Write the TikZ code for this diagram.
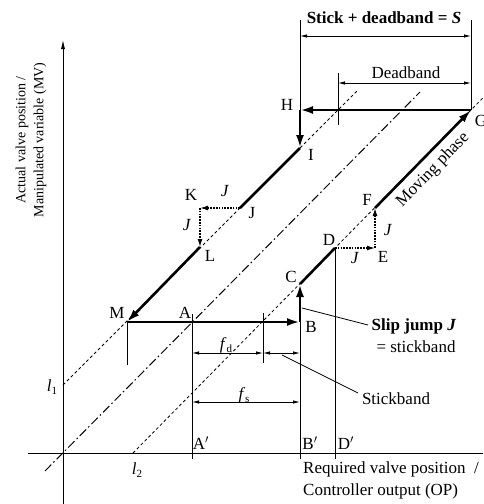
\documentclass[tikz,border=0pt]{standalone}
\usepackage{fontspec}
\setmainfont{Liberation Serif}
\usetikzlibrary{arrows.meta}
\begin{document}
\begin{tikzpicture}[x=1pt,y=-1pt,
  lbl/.style={inner sep=0pt, font=\fontsize{17}{20}\selectfont},
  mainarrow/.style={line width=2.6pt, -{Latex[length=13pt,width=8pt]}},
  mainline/.style={line width=2.6pt},
  jumparrow/.style={line width=1.3pt, dash pattern=on 1.6pt off 1.2pt, -{Latex[length=8pt,width=5pt]}},
  thinline/.style={line width=0.8pt},
  dimarrow/.style={line width=0.8pt, {Latex[length=7pt,width=3.5pt]}-{Latex[length=7pt,width=3.5pt]}},
  refline/.style={line width=0.8pt, dash pattern=on 3pt off 2.5pt},
  centerline/.style={line width=1pt, dash pattern=on 9pt off 3pt on 1.5pt off 3pt}
]
\useasboundingbox (0,0) rectangle (483,504);

% key points
\coordinate (M) at (127,322);
\coordinate (A) at (192,322);
\coordinate (B) at (300,322);
\coordinate (C) at (300,284);
\coordinate (D) at (335,248);
\coordinate (E) at (375,248);
\coordinate (F) at (375,208);
\coordinate (G) at (471,110);
\coordinate (H) at (300,110);
\coordinate (I) at (300,148);
\coordinate (J) at (240,208);
\coordinate (K) at (200,208);
\coordinate (L) at (200,247);

% axes
\coordinate (yb) at (63,504);
\coordinate (yt) at (63,40);
\coordinate (xl) at (28,453);
\coordinate (xr) at (483,453);
\draw[thinline, -{Latex[length=9pt,width=4pt]}] (yb) -- (yt);
\draw[thinline] (xl) -- (xr);

% reference lines
\coordinate (l1s) at (63,385);
\coordinate (l1e) at (358,90);
\coordinate (l2s) at (133,453);
\coordinate (l2e) at (483,97.8);
\coordinate (cs) at (45,471);
\coordinate (ce) at (420,92);
\draw[refline] (l1s) -- (l1e);
\draw[refline] (l2s) -- (l2e);
\draw[centerline] (cs) -- (ce);

% vertical thin lines
\coordinate (Htop) at (300,20);
\coordinate (Gtop) at (471,20);
\coordinate (dbt) at (338,73);
\coordinate (dbb) at (338,125);
\coordinate (Mb) at (127,365);
\coordinate (At) at (192,314);
\coordinate (Ab) at (192,459);
\coordinate (fdt) at (263,313);
\coordinate (fdb) at (263,363);
\coordinate (Bb) at (300,459);
\coordinate (Db) at (335,459);
\draw[thinline] (Htop) -- (H);
\draw[thinline] (Gtop) -- (G);
\draw[thinline] (dbt) -- (dbb);
\draw[thinline] (M) -- (Mb);
\draw[thinline] (At) -- (Ab);
\draw[thinline] (fdt) -- (fdb);
\draw[thinline] (B) -- (Bb);
\draw[thinline] (D) -- (Db);

% dimension arrows
\coordinate (S1) at (300,36);
\coordinate (S2) at (471,36);
\coordinate (d1) at (338,83);
\coordinate (d2) at (471,83);
\coordinate (fd1) at (192,353);
\coordinate (fd2) at (263,353);
\coordinate (sb2) at (300,353);
\coordinate (fs1) at (192,402);
\coordinate (fs2) at (300,402);
\draw[dimarrow] (S1) -- (S2);
\draw[dimarrow] (d1) -- (d2);
\draw[dimarrow] (fd1) -- (fd2);
\draw[dimarrow] (fd2) -- (sb2);
\draw[dimarrow] (fs1) -- (fs2);

% main cycle
\draw[mainarrow] (M) -- (B);
\draw[mainarrow] (B) -- (C);
\draw[mainline] (C) -- (D);
\draw[jumparrow] (D) -- (E);
\draw[jumparrow] (E) -- (F);
\draw[mainarrow] (F) -- (G);
\draw[mainarrow] (G) -- (H);
\draw[mainarrow] (H) -- (I);
\draw[mainline] (I) -- (J);
\draw[jumparrow] (J) -- (K);
\draw[jumparrow] (K) -- (L);
\draw[mainarrow] (L) -- (M);

% point labels
\node[lbl] (tM) at (117,313) {M};
\node[lbl] (tA) at (185,313) {A};
\node[lbl] (tB) at (311,327) {B};
\node[lbl] (tC) at (291,277) {C};
\node[lbl] (tD) at (329,240) {D};
\node[lbl] (tE) at (383,257) {E};
\node[lbl] (tF) at (367,200) {F};
\node[lbl] (tG) at (481,121) {G};
\node[lbl] (tH) at (287,105) {H};
\node[lbl] (tI) at (311,155) {I};
\node[lbl] (tJ) at (252,213) {J};
\node[lbl] (tK) at (191,195) {K};
\node[lbl] (tL) at (210,256) {L};
\node[lbl] (jJK) at (225,191) {\textit{J}};
\node[lbl] (jKL) at (187,225) {\textit{J}};
\node[lbl] (jDE) at (355,258) {\textit{J}};
\node[lbl] (jEF) at (388,230) {\textit{J}};

\node[lbl] (tAp) at (201,443) {A$'$};
\node[lbl] (tBp) at (310,443) {B$'$};
\node[lbl] (tDp) at (346,443) {D$'$};
\node[lbl] (tl1) at (52,387) {\textit{l}\raisebox{-3pt}{\fontsize{11}{11}\selectfont 1}};
\node[lbl] (tl2) at (137,470) {\textit{l}\raisebox{-3pt}{\fontsize{11}{11}\selectfont 2}};
\node[lbl] (tfd) at (226,345) {\textit{f}\raisebox{-3pt}{\fontsize{11}{11}\selectfont d}};
\node[lbl] (tfs) at (244,395) {\textit{f}\raisebox{-3pt}{\fontsize{11}{11}\selectfont s}};

% dimension texts
\node[lbl] (tS) at (384,18) {\textbf{Stick + deadband = \textit{S}}};
\node[lbl] (tDB) at (406,73) {Deadband};
\node[lbl, rotate=46] (tMP) at (433,170) {Moving phase};

% callouts
\node[lbl] (tSJ) at (414,326) {\textbf{Slip jump \textit{J}}};
\node[lbl] (tSJ2) at (416,347) {= stickband};
\node[lbl] (tSB) at (396,399) {Stickband};
\coordinate (sj1) at (302,308);
\coordinate (sj2) at (368,325);
\coordinate (sb1) at (282,355);
\coordinate (sb3) at (358,393);
\draw[thinline] (sj1) -- (sj2);
\draw[thinline] (sb1) -- (sb3);

% axis labels
\node[inner sep=0pt, rotate=90, align=center, font=\fontsize{14}{18}\selectfont] (ylab) at (31,140)
  {Actual valve position /\\Manipulated variable (MV)};
\node[inner sep=0pt, anchor=west, align=left, font=\fontsize{17}{22}\selectfont] (xlab) at (303,480)
  {Required valve position\ \ /\\Controller output (OP)};
\end{tikzpicture}
\end{document}
